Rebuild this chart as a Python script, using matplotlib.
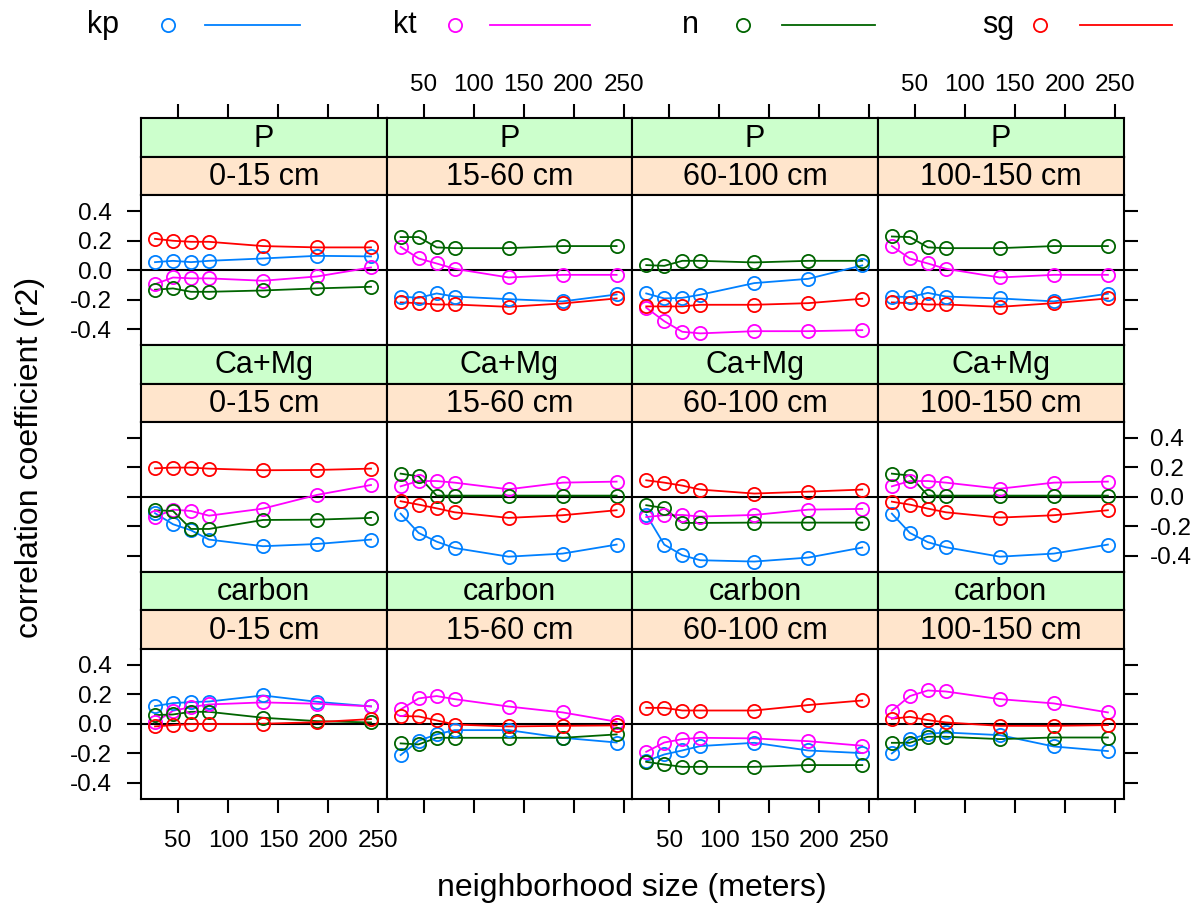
import matplotlib
matplotlib.use("Agg")
import matplotlib.pyplot as plt
from matplotlib.lines import Line2D

plt.rcParams['font.family'] = ['Liberation Sans', 'DejaVu Sans']
plt.rcParams['axes.unicode_minus'] = False

# ---- data -------------------------------------------------------------
neighborhood = [27, 45, 63, 81, 135, 189, 243]
groups = ["kp", "kt", "n", "sg"]
colors = ["#0080ff", "#ff00ff", "#006400", "#ff0000"]
depths = ["0-15 cm", "15-60 cm", "60-100 cm", "100-150 cm"]
variables = ["P", "Ca+Mg", "carbon"]
x_ticks = [50, 100, 150, 200, 250]
y_ticks = [-0.4, -0.2, 0.0, 0.2, 0.4]
y_ticklabels = ["-0.4", "-0.2", "0.0", "0.2", "0.4"]

# P
P_0_15 = {
    "kp": [0.054, 0.063, 0.054, 0.063, 0.079, 0.097, 0.093],
    "kt": [-0.095, -0.050, -0.056, -0.056, -0.072, -0.043, 0.018],
    "n":  [-0.133, -0.124, -0.147, -0.147, -0.138, -0.124, -0.113],
    "sg": [0.212, 0.199, 0.192, 0.192, 0.163, 0.154, 0.154],
}
P_15_60 = {
    "kp": [-0.179, -0.188, -0.158, -0.179, -0.197, -0.212, -0.165],
    "kt": [0.158, 0.079, 0.045, 0.009, -0.050, -0.032, -0.032],
    "n":  [0.224, 0.224, 0.154, 0.149, 0.149, 0.163, 0.163],
    "sg": [-0.219, -0.224, -0.233, -0.233, -0.249, -0.226, -0.192],
}
P_60_100 = {
    "kp": [-0.158, -0.192, -0.188, -0.167, -0.088, -0.059, 0.032],
    "kt": [-0.255, -0.346, -0.418, -0.429, -0.414, -0.414, -0.407],
    "n":  [0.034, 0.029, 0.063, 0.063, 0.052, 0.063, 0.063],
    "sg": [-0.246, -0.246, -0.246, -0.235, -0.235, -0.224, -0.194],
}
P_100_150 = {
    "kp": [-0.179, -0.183, -0.154, -0.179, -0.192, -0.212, -0.160],
    "kt": [0.163, 0.079, 0.045, 0.009, -0.050, -0.032, -0.032],
    "n":  [0.228, 0.224, 0.154, 0.149, 0.149, 0.163, 0.163],
    "sg": [-0.219, -0.224, -0.233, -0.233, -0.249, -0.224, -0.192],
}

# Ca+Mg
CaMg_0_15 = {
    "kp": [-0.110, -0.185, -0.226, -0.289, -0.334, -0.319, -0.289],
    "kt": [-0.136, -0.086, -0.095, -0.127, -0.079, 0.014, 0.081],
    "n":  [-0.090, -0.095, -0.217, -0.217, -0.156, -0.154, -0.142],
    "sg": [0.194, 0.199, 0.199, 0.192, 0.181, 0.183, 0.192],
}
CaMg_15_60 = {
    "kp": [-0.113, -0.244, -0.303, -0.346, -0.405, -0.384, -0.323],
    "kt": [0.072, 0.108, 0.108, 0.097, 0.052, 0.097, 0.104],
    "n":  [0.158, 0.140, 0.009, 0.009, 0.009, 0.009, 0.009],
    "sg": [-0.029, -0.052, -0.077, -0.104, -0.142, -0.124, -0.090],
}
CaMg_60_100 = {
    "kp": [-0.120, -0.323, -0.395, -0.429, -0.438, -0.411, -0.343],
    "kt": [-0.136, -0.124, -0.122, -0.133, -0.122, -0.086, -0.081],
    "n":  [-0.056, -0.075, -0.176, -0.176, -0.174, -0.174, -0.174],
    "sg": [0.113, 0.097, 0.077, 0.050, 0.023, 0.036, 0.050],
}
CaMg_100_150 = {
    "kp": [-0.113, -0.244, -0.307, -0.341, -0.405, -0.384, -0.323],
    "kt": [0.072, 0.108, 0.108, 0.097, 0.056, 0.097, 0.104],
    "n":  [0.158, 0.145, 0.009, 0.009, 0.009, 0.009, 0.009],
    "sg": [-0.032, -0.052, -0.079, -0.104, -0.140, -0.124, -0.090],
}

# carbon
carbon_0_15 = {
    "kp": [0.120, 0.140, 0.147, 0.151, 0.192, 0.149, 0.118],
    "kt": [0.010, 0.088, 0.113, 0.131, 0.145, 0.136, 0.118],
    "n":  [0.059, 0.063, 0.081, 0.081, 0.041, 0.018, 0.009],
    "sg": [-0.018, -0.009, -0.002, -0.002, 0.000, 0.011, 0.032],
}
carbon_15_60 = {
    "kp": [-0.212, -0.115, -0.072, -0.043, -0.043, -0.095, -0.127],
    "kt": [0.097, 0.172, 0.188, 0.167, 0.117, 0.077, 0.014],
    "n":  [-0.133, -0.140, -0.095, -0.095, -0.095, -0.095, -0.072],
    "sg": [0.052, 0.050, 0.023, -0.005, -0.018, -0.014, -0.011],
}
carbon_60_100 = {
    "kp": [-0.253, -0.208, -0.181, -0.151, -0.129, -0.181, -0.199],
    "kt": [-0.190, -0.127, -0.104, -0.095, -0.099, -0.118, -0.149],
    "n":  [-0.258, -0.276, -0.292, -0.292, -0.292, -0.280, -0.280],
    "sg": [0.108, 0.108, 0.090, 0.090, 0.090, 0.127, 0.158],
}
carbon_100_150 = {
    "kp": [-0.201, -0.106, -0.068, -0.059, -0.077, -0.154, -0.185],
    "kt": [0.088, 0.188, 0.226, 0.219, 0.167, 0.138, 0.077],
    "n":  [-0.129, -0.129, -0.088, -0.088, -0.104, -0.093, -0.093],
    "sg": [0.034, 0.047, 0.025, 0.009, -0.014, -0.014, -0.009],
}

panels = [
    [P_0_15, P_15_60, P_60_100, P_100_150],
    [CaMg_0_15, CaMg_15_60, CaMg_60_100, CaMg_100_150],
    [carbon_0_15, carbon_15_60, carbon_60_100, carbon_100_150],
]

# ---- figure layout (pixel based) --------------------------------------
W, H = 1204, 913
fig = plt.figure(figsize=(W / 100, H / 100), dpi=100)


def fx(px):
    return px / W


def fh(px):
    return px / H


left, right, top, bottom = 141.0, 1123.5, 118.0, 798.5
col_w = (right - left) / 4
row_h = (bottom - top) / 3
strip_h = 38.7
panel_h = row_h - 2 * strip_h

XLIM = (13.0, 13.0 + col_w)
YHALF = panel_h / 2 / 147.5
YLIM = (-YHALF, YHALF)

LW_FRAME = 1.5
TICK_LEN = 10
TICK_FS = 17.5
STRIP_FS = 22
GREEN = "#ccffcc"
PEACH = "#ffe5cc"


def make_axes(x_px, y_top_px, w_px, h_px):
    return fig.add_axes([fx(x_px), 1 - (y_top_px + h_px) / H, fx(w_px), fh(h_px)])


def style_frame(ax):
    for s in ax.spines.values():
        s.set_linewidth(LW_FRAME)
        s.set_color("black")


for r, var in enumerate(variables):
    for c, depth in enumerate(depths):
        x0 = left + c * col_w
        y0 = top + r * row_h

        # strips: variable (green) on top, depth (peach) below
        s_var = make_axes(x0, y0, col_w, strip_h)
        s_dep = make_axes(x0, y0 + strip_h, col_w, strip_h)
        for s_ax, txt, col in ((s_var, var, GREEN), (s_dep, depth, PEACH)):
            s_ax.set_facecolor(col)
            s_ax.set_xlim(XLIM)
            s_ax.set_ylim(0, 1)
            s_ax.set_yticks([])
            s_ax.set_xticks([])
            style_frame(s_ax)
            s_ax.text(0.5, 0.47, txt, transform=s_ax.transAxes, ha="center",
                      va="center", fontsize=STRIP_FS)

        if r == 0:
            s_var.set_xticks(x_ticks)
            s_var.xaxis.tick_top()
            s_var.tick_params(axis="x", direction="out", length=TICK_LEN,
                              width=LW_FRAME, labelsize=TICK_FS, pad=6,
                              labeltop=(c in (1, 3)), labelbottom=False,
                              bottom=False)

        # data panel
        ax = make_axes(x0, y0 + 2 * strip_h, col_w, panel_h)
        ax.set_xlim(XLIM)
        ax.set_ylim(YLIM)
        style_frame(ax)
        ax.axhline(0, color="black", lw=1.5, zorder=1)

        data = panels[r][c]
        for g, col in zip(groups, colors):
            ax.plot(neighborhood, data[g], color=col, lw=1.3, zorder=2)
            ax.plot(neighborhood, data[g], linestyle="none", marker="o",
                    markersize=9.5, markerfacecolor="none",
                    markeredgecolor=col, markeredgewidth=1.3, zorder=3)

        # x axis only on the bottom row
        if r == 2:
            ax.set_xticks(x_ticks)
            ax.tick_params(axis="x", direction="out", length=TICK_LEN,
                           width=LW_FRAME, labelsize=TICK_FS, pad=13,
                           labelbottom=(c in (0, 2)), top=False)
        else:
            ax.set_xticks([])

        # y axis only on outer columns, labels alternate sides
        if c == 0 or c == 3:
            ax.set_yticks(y_ticks)
            ax.set_yticklabels(y_ticklabels)
            if c == 0:
                ax.tick_params(axis="y", direction="out", length=TICK_LEN,
                               width=LW_FRAME, labelsize=TICK_FS, pad=11,
                               left=True, right=False,
                               labelleft=(r in (0, 2)), labelright=False)
            else:
                ax.tick_params(axis="y", direction="out", length=TICK_LEN,
                               width=LW_FRAME, labelsize=TICK_FS, pad=9,
                               left=False, right=True,
                               labelleft=False, labelright=(r == 1))
        else:
            ax.set_yticks([])

# ---- legend across the top ---------------------------------------------
leg_y = 1 - 25 / H
leg_items = [
    ("kp", 103, 168, 205, 300),
    ("kt", 405, 455, 490, 590),
    ("n", 690, 743, 782, 875),
    ("sg", 998, 1040, 1080, 1172),
]
for (name, tx, cx, lx0, lx1), col in zip(leg_items, colors):
    fig.text(fx(tx), leg_y, name, ha="center", va="center", fontsize=STRIP_FS)
    fig.add_artist(Line2D([fx(cx)], [leg_y], marker="o", markersize=9.5,
                          markerfacecolor="none", markeredgecolor=col,
                          markeredgewidth=1.3, linestyle="none"))
    fig.add_artist(Line2D([fx(lx0), fx(lx1)], [leg_y, leg_y], color=col,
                          lw=1.3))

# ---- axis titles --------------------------------------------------------
fig.text(fx(632), 1 - 888 / H, "neighborhood size (meters)", ha="center",
         va="center", fontsize=23)
fig.text(fx(30), 1 - 457 / H, "correlation coefficient (r2)", ha="center",
         va="center", rotation=90, fontsize=23)

fig.savefig("out.png", dpi=100)
